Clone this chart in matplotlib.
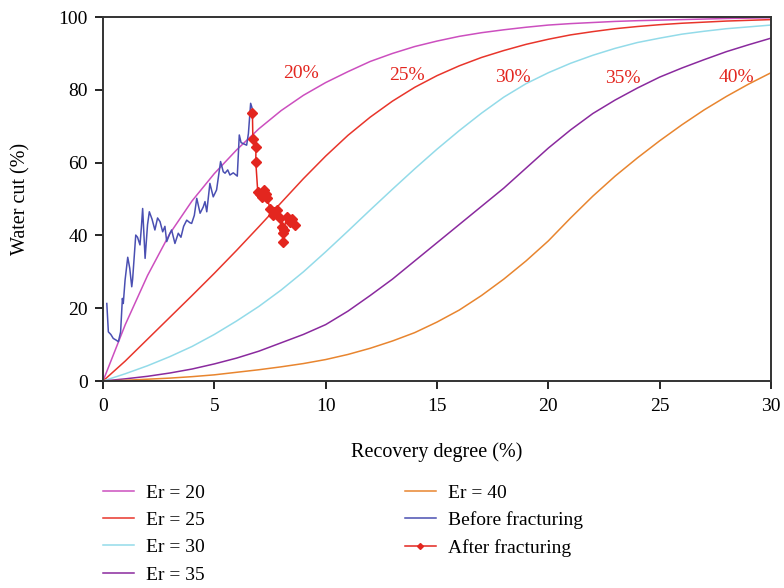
import matplotlib
matplotlib.use("Agg")
import matplotlib.pyplot as plt

plt.rcParams['font.family'] = ['Liberation Serif', 'DejaVu Serif']

# Theoretical curves (recovery degree %, water cut %)
rec = list(range(0, 31))
er20 = [0, 15.5, 29, 40.5, 49.5, 57, 63.5, 69.3, 74.3, 78.5, 82, 85, 87.8, 90, 91.9, 93.4,
        94.7, 95.7, 96.5, 97.2, 97.8, 98.2, 98.5, 98.8, 99, 99.15, 99.3, 99.45, 99.6, 99.7, 99.8]
er25 = [0, 5.5, 11.5, 17.5, 23.5, 29.6, 35.9, 42.4, 49, 55.6, 61.8, 67.5, 72.5, 76.9, 80.7, 83.9,
        86.6, 88.9, 90.8, 92.5, 93.9, 95.1, 96, 96.8, 97.4, 97.9, 98.3, 98.6, 98.9, 99.1, 99.3]
er30 = [0, 2, 4.2, 6.7, 9.5, 12.8, 16.5, 20.5, 25, 30, 35.5, 41.2, 47, 52.7, 58.3, 63.7,
        68.8, 73.6, 78, 81.7, 84.7, 87.3, 89.5, 91.4, 93, 94.2, 95.3, 96.1, 96.8, 97.3, 97.8]
er35 = [0, 0.6, 1.3, 2.2, 3.3, 4.7, 6.3, 8.2, 10.5, 12.8, 15.5, 19.2, 23.5, 28, 33, 38,
        43, 48, 53, 58.5, 64, 69, 73.5, 77.2, 80.5, 83.5, 86, 88.3, 90.5, 92.4, 94.2]
er40 = [0, 0.2, 0.5, 0.8, 1.2, 1.7, 2.4, 3.1, 3.9, 4.8, 5.9, 7.3, 9, 11, 13.3, 16.2,
        19.5, 23.5, 28, 33, 38.5, 44.8, 50.8, 56.3, 61.3, 66, 70.4, 74.5, 78.2, 81.6, 84.7]

# Field data before fracturing
before_x = [0.17, 0.24, 0.35, 0.46, 0.6, 0.69, 0.79, 0.87, 0.91, 0.99, 1.11, 1.2, 1.29, 1.33,
            1.47, 1.55, 1.66, 1.72, 1.78, 1.89, 2.0, 2.08, 2.2, 2.33, 2.45, 2.56, 2.68, 2.78,
            2.86, 3.0, 3.08, 3.23, 3.38, 3.5, 3.62, 3.76, 3.9, 3.98, 4.1, 4.21, 4.36, 4.5,
            4.58, 4.66, 4.8, 4.95, 5.1, 5.28, 5.4, 5.48, 5.6, 5.7, 5.85, 6.03, 6.12, 6.2,
            6.27, 6.45, 6.53, 6.63, 6.72]
before_y = [21.3, 13.5, 12.8, 11.7, 11.2, 10.8, 13.5, 22.7, 21.3, 27.7, 34, 31, 25.9, 28,
            40.1, 39.5, 37.4, 42, 47.4, 33.7, 43, 46.5, 44.5, 41.5, 44.8, 43.8, 41, 42.5,
            38.3, 40.5, 41.5, 37.8, 40.6, 39.5, 42.5, 44.2, 43.5, 43.3, 45.5, 50.2, 46.1, 47.8,
            49.3, 46.5, 54.3, 50.6, 52.5, 60.3, 57.5, 57.1, 58, 56.6, 57.2, 56.3, 67.6, 65.5,
            65.3, 64.8, 68, 76.3, 74.5]

# Field data after fracturing
after_x = [6.71, 6.73, 6.87, 6.86, 6.95, 7.05, 7.12, 7.22, 7.3, 7.38, 7.5, 7.62, 7.7, 7.8,
           7.95, 8.05, 8.1, 8.07, 8.12, 8.25, 8.4, 8.5, 8.6]
after_y = [73.7, 66.4, 64.2, 60.3, 52, 51.5, 50.6, 52.5, 51.5, 50.2, 47.4, 45.6, 46.5, 47,
           44.7, 42.4, 40.6, 38.3, 41.5, 45.1, 43.8, 44.5, 42.9]

label_x = [8.9, 13.65, 18.4, 23.35, 28.45]
label_y = [84.5, 84, 83.5, 83, 83.5]
label_txt = ['20%', '25%', '30%', '35%', '40%']

fig = plt.figure(figsize=(7.84, 5.88), dpi=100)
ax = fig.add_axes([0.1314, 0.352, 0.852, 0.619])

lw = 1.1
ax.plot(rec, er20, color='#cc4fbf', lw=lw, label='Er = 20')
ax.plot(rec, er25, color='#e8352b', lw=lw, label='Er = 25')
ax.plot(rec, er30, color='#93dbe9', lw=lw, label='Er = 30')
ax.plot(rec, er35, color='#8a2a9e', lw=lw, label='Er = 35')
ax.plot(rec, er40, color='#e8852f', lw=lw, label='Er = 40')
ax.plot(before_x, before_y, color='#4a4fb2', lw=lw, label='Before fracturing')
ax.plot(after_x, after_y, color='#e3261f', lw=lw, marker='D', markersize=5,
        label='After fracturing')

for tx, ty, s in zip(label_x, label_y, label_txt):
    ax.text(tx, ty, s, color='#e3261f', fontsize=14, ha='center', va='center')

ax.set_xlim(0, 30)
ax.set_ylim(0, 100)
ax.set_xticks([0, 5, 10, 15, 20, 25, 30])
ax.set_yticks([0, 20, 40, 60, 80, 100])
ax.tick_params(direction='out', length=6, width=1.2, labelsize=14, top=False, right=False)
ax.tick_params(axis='x', pad=6)
ax.tick_params(axis='y', pad=5)
for sp in ax.spines.values():
    sp.set_linewidth(1.4)
    sp.set_color('#333333')

ax.set_xlabel('Recovery degree (%)', fontsize=14.5, labelpad=20)
ax.set_ylabel('Water cut (%)', fontsize=14.5, labelpad=20)

h, l = ax.get_legend_handles_labels()
fig.legend(h, l, ncol=2, frameon=False,
           fontsize=14, loc='upper left', bbox_to_anchor=(0.132, 0.177),
           borderpad=0, borderaxespad=0, handlelength=1.55, handletextpad=0.65,
           labelspacing=0.5, columnspacing=10.3, markerscale=0.6)

fig.savefig('out.png', dpi=100)
